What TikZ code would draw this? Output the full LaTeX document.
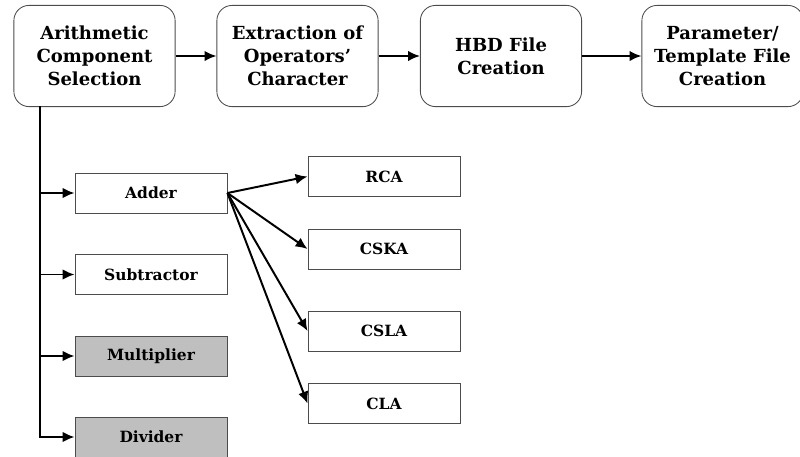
\documentclass[tikz,border=0pt]{standalone}
\usepackage{fontspec}
\setmainfont{DejaVu Serif}[BoldFont={DejaVu Serif Bold}]
\usetikzlibrary{arrows.meta}

\begin{document}
\begin{tikzpicture}[x=0.025cm, y=-0.025cm,
        stagebox/.style={draw=black!70, line width=0.6pt, rounded corners=0.38cm, minimum width=4.03cm, minimum height=2.53cm, inner sep=0pt, align=center, font=\bfseries\fontsize{12.8}{16.4}\selectfont},
        blockbox/.style={draw=black!70, line width=0.6pt, minimum width=3.8cm, minimum height=1cm, inner sep=0pt, font=\bfseries\fontsize{11}{13}\selectfont},
        shadedbox/.style={blockbox, fill=black!25},
        flow/.style={-{Latex[length=8.5pt,width=7.5pt]}, line width=1.4pt}]
        \useasboundingbox (0,0) rectangle (800,456);

        \node[stagebox] (select)  at (94.5,56)  {Arithmetic\\Component\\Selection};
        \node[stagebox] (extract) at (297.5,56) {Extraction of\\Operators'\\Character};
        \node[stagebox] (hbd)     at (501,56)   {HBD File\\Creation};
        \node[stagebox] (param)   at (722.5,56) {Parameter/\\Template File\\Creation};

        \node[blockbox]  (adder) at (151,193)   {Adder};
        \node[blockbox]  (sub)   at (151,274.5) {Subtractor};
        \node[shadedbox] (mul)   at (151,356)   {Multiplier};
        \node[shadedbox] (div)   at (151,437)   {Divider};

        \node[blockbox] (rca)  at (384,176.5) {RCA};
        \node[blockbox] (cska) at (384,249)   {CSKA};
        \node[blockbox] (csla) at (384,331)   {CSLA};
        \node[blockbox] (cla)  at (384,403.5) {CLA};

        \draw [flow] (select) -- (extract);
        \draw [flow] (extract) -- (hbd);
        \draw [flow] (hbd) -- (param);

        \coordinate (trunk) at (40,106);
        \foreach \b in {adder, sub, mul, div}
            \draw [flow] (trunk) |- (\b.west);

        \foreach \a in {rca, cska, csla, cla}
            \draw [flow] (adder.east) -- (\a.west);
    \end{tikzpicture}
\end{document}
